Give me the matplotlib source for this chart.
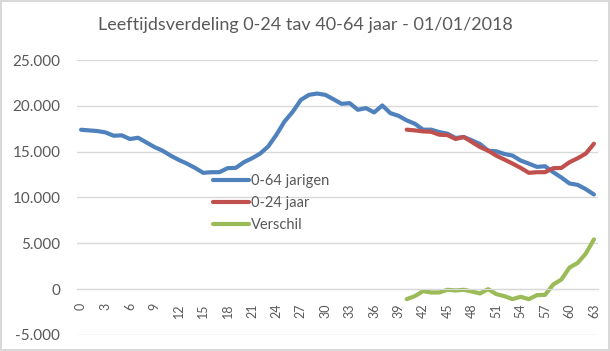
import matplotlib.pyplot as plt
import numpy as np

# ages 0..63 on the category axis
ages = np.arange(64)

# 0-64 jarigen (counts per age)
jarigen_0_64 = [
    17390, 17320, 17250, 17100, 16740, 16780, 16380, 16520, 16020, 15510,
    15110, 14570, 14100, 13700, 13230, 12690, 12760, 12760, 13200, 13230,
    13850, 14280, 14790, 15580, 16850, 18300, 19350, 20650, 21200, 21340,
    21200, 20720, 20220, 20290, 19570, 19750, 19280, 20040, 19200, 18910,
    18410, 18050, 17400, 17400, 17140, 16960, 16490, 16600, 16240, 15840,
    15110, 15040, 14750, 14570, 14030, 13700, 13340, 13410, 12760, 12180,
    11530, 11380, 10910, 10330,
]

# 0-24 jaar, drawn against ages 40..63
ages_shifted = np.arange(40, 64)
jaar_0_24 = [
    17400, 17320, 17210, 17170, 16850, 16810, 16380, 16600, 16060, 15510,
    15110, 14570, 14140, 13700, 13230, 12690, 12760, 12760, 13200, 13230,
    13850, 14280, 14790, 15870,
]

# Verschil (0-24 minus 40-64)
verschil = [
    -1090, -760, -220, -360, -360, -70, -140, -70, -250, -470,
    0, -540, -760, -1090, -830, -1090, -650, -620, 510, 1050,
    2360, 2860, 3880, 5430,
]

title = "Leeftijdsverdeling 0-24 tav 40-64 jaar - 01/01/2018"
y_ticks = [-5000, 0, 5000, 10000, 15000, 20000, 25000]
y_labels = ["-5.000", "0", "5.000", "10.000", "15.000", "20.000", "25.000"]

text_color = "#595959"
grid_color = "#D9D9D9"
plt.rcParams["font.family"] = ["Lato", "DejaVu Sans"]

fig = plt.figure(figsize=(6.10, 3.51), dpi=100)
fig.patch.set_edgecolor(grid_color)
fig.patch.set_linewidth(1.5)
ax = fig.add_axes([77 / 610, 1 - 335 / 351, 521 / 610, 275 / 351])

lw = 3.0
ax.plot(ages, jarigen_0_64, color="#4F81BD", lw=lw, label="0-64 jarigen",
        solid_capstyle="round", solid_joinstyle="round")
ax.plot(ages_shifted, jaar_0_24, color="#C0504D", lw=lw, label="0-24 jaar",
        solid_capstyle="round", solid_joinstyle="round")
ax.plot(ages_shifted, verschil, color="#9BBB59", lw=lw, label="Verschil",
        solid_capstyle="round", solid_joinstyle="round")

ax.set_xlim(-0.5, 63.5)
ax.set_ylim(-5000, 25000)
ax.set_yticks(y_ticks)
ax.set_yticklabels(y_labels)
ax.yaxis.grid(True, color=grid_color, lw=1)
ax.set_axisbelow(True)

ax.set_xticks(ages[::3])
ax.set_xticklabels([str(a) for a in ages[::3]])
ax.spines["bottom"].set_position(("data", 0))
ax.spines["bottom"].set_color(grid_color)
for side in ("top", "right", "left"):
    ax.spines[side].set_visible(False)
ax.tick_params(axis="both", length=0, colors=text_color)
ax.tick_params(axis="y", labelsize=11, pad=12)
ax.tick_params(axis="x", labelsize=9, pad=10, labelrotation=90)

ax.legend(loc="upper left", bbox_to_anchor=(213 / 610, 1 - 174 / 351),
          bbox_transform=fig.transFigure, frameon=False, fontsize=10.5,
          handlelength=2.5, handletextpad=0.1, labelspacing=0.55,
          labelcolor=text_color, borderaxespad=0, borderpad=0)

fig.text(0.5, 1 - 25 / 351, title, ha="center", va="center", fontsize=13,
         color=text_color)

fig.savefig("out.png", dpi=100)
